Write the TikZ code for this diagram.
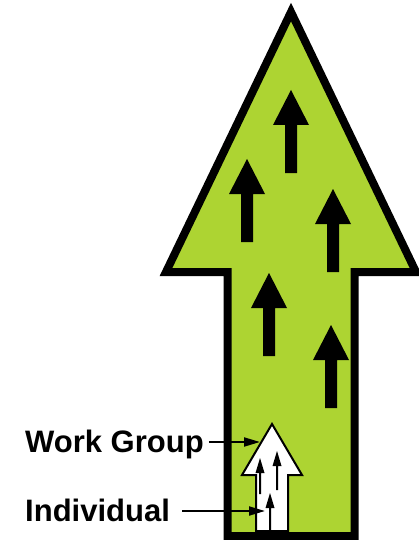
\documentclass[tikz,border=0pt]{standalone}
\usepackage{fontspec}
\setmainfont{Liberation Sans}
\usepackage{tikz}
\usetikzlibrary{arrows.meta, positioning, calc}

\begin{document}
\begin{tikzpicture}[x=1pt, y=-1pt, >=Triangle,
		bigarrow/.style={fill=levelgreen, draw=black, line width=8pt, miter limit=20},
		whitearrow/.style={fill=white, draw=black, line width=2pt, miter limit=20},
		lbl/.style={font=\fontsize{31}{37}\selectfont\bfseries, inner sep=0pt, anchor=base west},
		conn/.style={-{Triangle[length=16pt, width=9pt]}, line width=2pt}
		]
		
		% Define colors
		\definecolor{levelgreen}{RGB}{173,212,50}
		
		\useasboundingbox (0,0) rectangle (418,540);
		
		% 1. Big green arrow (organisation)
		\draw[bigarrow] (227.5,536) -- (227.5,272) -- (166,272) -- (291,12)
		-- (416,272) -- (354.5,272) -- (354.5,536) -- cycle;
		
		% Black arrows inside
		\foreach \x/\y in {291/90, 247/159, 333/189, 269/273, 331/325} {
			\fill[black] (\x,\y) -- ++(18,35) -- ++(-12,0) -- ++(0,48) -- ++(-12,0)
			-- ++(0,-48) -- ++(-12,0) -- cycle;
		}
		
		% 2. Small white arrow (work group)
		\draw[whitearrow] (256,531) -- (256,475) -- (242,475) -- (272,424)
		-- (302,475) -- (288,475) -- (288,531) -- cycle;
		
		% Tiny arrows (individuals)
		\foreach \x/\y/\l in {260/458/21, 277/451/24, 270/493/22} {
			\fill[black] (\x,\y) -- ++(4.5,15) -- ++(-3.5,0) -- ++(0,\l) -- ++(-2,0)
			-- ++(0,-\l) -- ++(-3.5,0) -- cycle;
		}
		
		% 3. Labels
		\coordinate (wg) at (260,442);
		\coordinate (ind) at (265,511);
		\node[lbl] (wgtext) at (25,452) {Work Group};
		\node[lbl] (indtext) at (25,521.5) {Individual};
		\draw[conn] ([xshift=5pt]wgtext.east |- wg) -- (wg);
		\draw[conn] ([xshift=12pt]indtext.east |- ind) -- (ind);
		
	\end{tikzpicture}
\end{document}
